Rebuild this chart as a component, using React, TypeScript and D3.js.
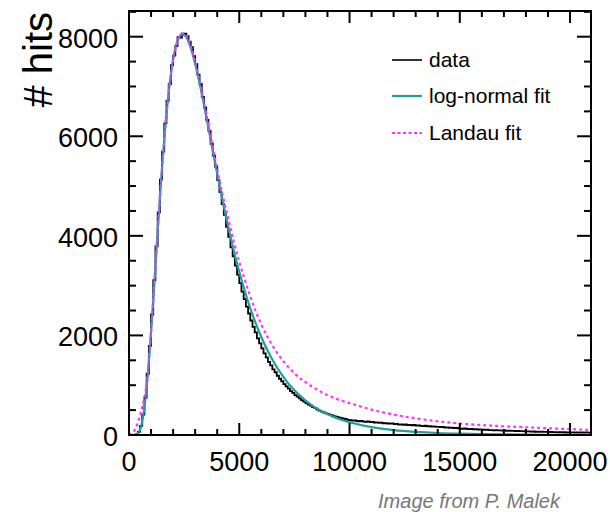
import React from 'react';
import * as d3 from 'd3';

// ---------- data ----------
const BIN_WIDTH = 100; // hits histogram bin width (x units)
const dataCounts = [
  0, 0, 2, 14, 62, 185, 410, 752, 1230, 1790,
  2420, 3110, 3790, 4470, 5130, 5690, 6260, 6710, 7050, 7430,
  7620, 7810, 7990, 7980, 8040, 8060, 8010, 7900, 7790, 7610,
  7450, 7240, 7050, 6790, 6580, 6330, 6110, 5850, 5610, 5390,
  5120, 4880, 4640, 4420, 4180, 3980, 3770, 3590, 3400, 3220,
  3050, 2880, 2730, 2580, 2440, 2300, 2170, 2060, 1940, 1840,
  1740, 1640, 1560, 1470, 1400, 1320, 1260, 1190, 1130, 1080,
  1020, 975, 930, 880, 845, 800, 770, 735, 700, 672,
  640, 612, 590, 562, 545, 510, 490, 470, 452, 436,
  420, 404, 390, 376, 362, 350, 338, 326, 316, 305,
  298, 290, 295, 281, 276, 284, 270, 266, 272, 259,
  262, 250, 255, 243, 247, 236, 240, 231, 228, 233,
  218, 224, 209, 213, 205, 211, 199, 203, 196, 201,
  188, 194, 183, 179, 186, 172, 176, 169, 173, 165,
  162, 158, 164, 150, 155, 146, 149, 140, 144, 136,
  130, 126, 132, 121, 118, 124, 113, 117, 109, 112,
  105, 101, 107, 97, 99, 94, 98, 91, 93, 88,
  90, 84, 86, 81, 84, 78, 80, 76, 79, 73,
  71, 74, 68, 70, 65, 69, 63, 66, 61, 64,
  59, 62, 56, 58, 54, 57, 52, 55, 50, 53,
  51, 54, 49, 52, 47, 50, 48, 51, 46, 49,
];

const logNormalX = [
  0, 250, 350, 450, 550, 650, 750, 850, 950, 1050,
  1150, 1250, 1350, 1450, 1550, 1650, 1750, 1850, 1950, 2050,
  2150, 2250, 2350, 2450, 2550, 2650, 2750, 2850, 2950, 3050,
  3250, 3450, 3650, 3850, 4050, 4250, 4450, 4650, 4850, 5050,
  5350, 5650, 5950, 6250, 6550, 6850, 7150, 7450, 7750, 8050,
  8450, 8850, 9250, 9650, 10000, 11000, 12000, 13000, 14000, 15000,
  16000, 17000, 18000, 19000, 20000, 21000,
];
const logNormalY = [
  0, 1, 12, 59, 178, 399, 738, 1195, 1750, 2386,
  3062, 3750, 4430, 5073, 5674, 6215, 6677, 7078, 7404, 7658,
  7842, 7968, 8034, 8049, 8018, 7948, 7842, 7706, 7543, 7364,
  6962, 6515, 6056, 5585, 5137, 4692, 4278, 3889, 3528, 3198,
  2747, 2359, 2018, 1727, 1476, 1261, 1077, 922, 791, 677,
  551, 450, 369, 302, 255, 157, 98, 63, 40, 26,
  17, 12, 8, 5, 4, 3,
];

const landauX = [
  0, 100, 200, 300, 400, 500, 600, 700, 800, 900,
  1000, 1100, 1200, 1300, 1400, 1500, 1600, 1700, 1800, 1900,
  2000, 2100, 2200, 2300, 2400, 2500, 2600, 2700, 2800, 2900,
  3000, 3200, 3400, 3600, 3800, 4000, 4250, 4500, 4750, 5000,
  5250, 5500, 5750, 6000, 6500, 7000, 7500, 8000, 8500, 9000,
  9500, 10000, 11000, 12000, 13000, 14000, 15000, 16000, 17000, 18000,
  19000, 20000, 21000,
];
const landauY = [
  0, 20, 60, 130, 250, 400, 560, 760, 1030, 1500,
  2080, 2720, 3400, 4090, 4750, 5380, 5950, 6450, 6880, 7240,
  7540, 7760, 7920, 8020, 8065, 8065, 8025, 7935, 7815, 7665,
  7495, 7110, 6680, 6230, 5780, 5340, 4810, 4340, 3890, 3480,
  3120, 2780, 2480, 2220, 1800, 1480, 1240, 1060, 920, 800,
  710, 640, 510, 410, 335, 275, 230, 200, 176, 155,
  135, 118, 100,
];

const xMajorTicks = [0, 5000, 10000, 15000, 20000];
const yMajorTicks = [0, 2000, 4000, 6000, 8000];
const legendLabels = ['data', 'log-normal fit', 'Landau fit'];
const yAxisTitle = '# hits';
const creditText = 'Image from P. Malek';

// ---------- styles ----------
const FONT = "'Liberation Sans', Arial, Helvetica, sans-serif";
const COLOR_DATA = '#000000';
const COLOR_LN = '#1f9e9e';
const COLOR_LANDAU = '#ff33ff';

export default function App() {
  const W = 610;
  const H = 512;
  const L = 129;
  const R = 591;
  const T = 11;
  const B = 435;

  const x = d3.scaleLinear().domain([0, 20950]).range([L, R]);
  const y = d3.scaleLinear().domain([0, 8516]).range([B, T]);

  // histogram as step line
  const histPts: [number, number][] = dataCounts.map((v, i) => [i * BIN_WIDTH, v]);
  histPts.push([dataCounts.length * BIN_WIDTH, dataCounts[dataCounts.length - 1]]);
  const histLine = d3
    .line<[number, number]>()
    .x((d) => x(d[0]))
    .y((d) => y(d[1]))
    .curve(d3.curveStepAfter);

  const smooth = d3
    .line<[number, number]>()
    .x((d) => x(d[0]))
    .y((d) => y(d[1]))
    .curve(d3.curveMonotoneX);

  const lnPts: [number, number][] = logNormalX.map((v, i) => [v, logNormalY[i]]);
  const landauPts: [number, number][] = landauX.map((v, i) => [v, landauY[i]]);

  const xMinor = d3.range(0, 21000, 1000).filter((v) => x(v) <= R);
  const yMinor = d3.range(0, 8600, 500).filter((v) => y(v) >= T);

  const majLenX = 12;
  const minLenX = 6;
  const majLenY = 14;
  const minLenY = 7;

  const legendX0 = 392;
  const legendX1 = 422;
  const legendTextX = 429;
  const legendBase = [67, 103, 140];
  const legendColors = [COLOR_DATA, COLOR_LN, COLOR_LANDAU];
  const legendDash = [null, null, '3,2.5'];

  return (
    <svg
      width={W}
      height={H}
      style={{ position: 'absolute', left: 0, top: 0, display: 'block', background: '#fff' }}
    >
      <rect x={0} y={0} width={W} height={H} fill="#fff" />
      <defs>
        <clipPath id="plotClip">
          <rect x={L} y={T} width={R - L} height={B - T} />
        </clipPath>
      </defs>

      <g clipPath="url(#plotClip)">
        <path d={histLine(histPts) || ''} fill="none" stroke={COLOR_DATA} strokeWidth={1.8} />
        <path d={smooth(lnPts) || ''} fill="none" stroke={COLOR_LN} strokeWidth={2.2} />
        <path
          d={smooth(landauPts) || ''}
          fill="none"
          stroke={COLOR_LANDAU}
          strokeWidth={2.2}
          strokeDasharray="3,3"
        />
      </g>

      {/* ticks */}
      <g stroke="#000" strokeWidth={2}>
        {xMinor.map((v) => {
          const major = v % 5000 === 0;
          const len = major ? majLenX : minLenX;
          return (
            <g key={'xt' + v}>
              <line x1={x(v)} x2={x(v)} y1={B} y2={B - len} />
              <line x1={x(v)} x2={x(v)} y1={T} y2={T + len} />
            </g>
          );
        })}
        {yMinor.map((v) => {
          const major = v % 2000 === 0;
          const len = major ? majLenY : minLenY;
          return (
            <g key={'yt' + v}>
              <line x1={L} x2={L + len} y1={y(v)} y2={y(v)} />
              <line x1={R} x2={R - len} y1={y(v)} y2={y(v)} />
            </g>
          );
        })}
      </g>

      {/* frame */}
      <rect x={L} y={T} width={R - L} height={B - T} fill="none" stroke="#000" strokeWidth={2} />

      {/* tick labels */}
      <g fontFamily={FONT} fontSize={27} fill="#000">
        {xMajorTicks.map((v) => (
          <text key={'xl' + v} x={x(v)} y={B + 36} textAnchor="middle">
            {v}
          </text>
        ))}
        {yMajorTicks.map((v) => (
          <text key={'yl' + v} x={L - 11} y={y(v) + 11} textAnchor="end">
            {v}
          </text>
        ))}
      </g>

      {/* y axis title */}
      <text
        transform={`translate(52, 12) rotate(-90)`}
        textAnchor="end"
        fontFamily={FONT}
        fontSize={40}
        fill="#000"
      >
        {yAxisTitle}
      </text>

      {/* legend */}
      <g fontFamily={FONT} fontSize={21} fill="#000">
        {legendLabels.map((lab, i) => (
          <g key={lab}>
            <line
              x1={legendX0}
              x2={legendX1}
              y1={legendBase[i] - 7}
              y2={legendBase[i] - 7}
              stroke={legendColors[i]}
              strokeWidth={i === 0 ? 1.6 : 2.2}
              strokeDasharray={legendDash[i] || undefined}
            />
            <text x={legendTextX} y={legendBase[i]}>
              {lab}
            </text>
          </g>
        ))}
      </g>

      {/* credit */}
      <text
        x={560}
        y={508}
        textAnchor="end"
        fontFamily={FONT}
        fontSize={20}
        fontStyle="italic"
        fill="#777"
      >
        {creditText}
      </text>
    </svg>
  );
}
